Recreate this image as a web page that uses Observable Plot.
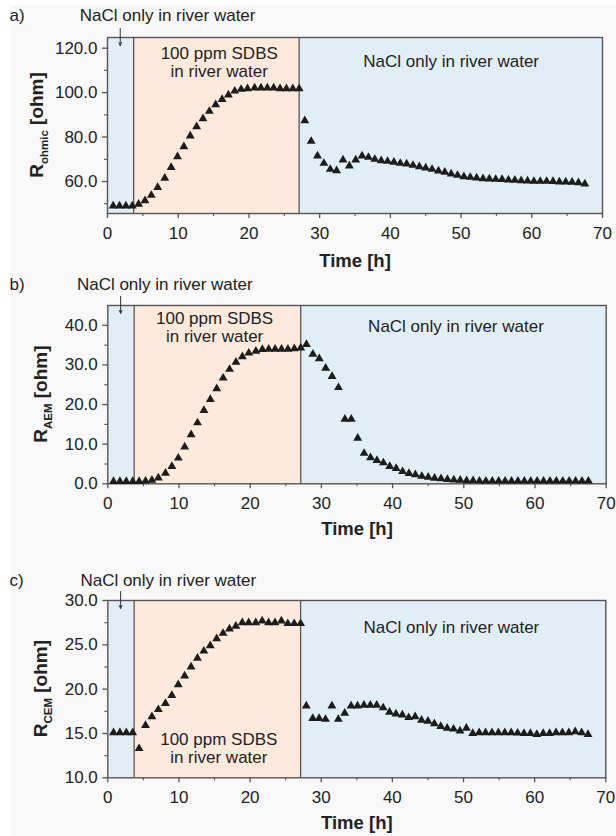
<!DOCTYPE html>
<html>
<head>
<meta charset="utf-8">
<script src="https://cdn.jsdelivr.net/npm/d3@7"></script>
<script src="https://cdn.jsdelivr.net/npm/@observablehq/plot@0.6"></script>
<style>
  html, body { margin: 0; padding: 0; }
  body {
    width: 616px; height: 836px; overflow: hidden;
    background: linear-gradient(to right, #ffffff 10px, rgba(0,0,0,0) 10px), linear-gradient(#ffffff 5px, #f8f8f8 5px);
    font-family: "Liberation Sans", Arial, sans-serif;
  }
  #chart svg { display: block; }
</style>
</head>
<body>
<div id="chart"></div>
<script>
// ---- data ----
const time = [
  0.8, 1.7, 2.6, 3.5, 4.4, 5.3, 6.2, 7.1, 8.1, 9.0,
  9.9, 10.8, 11.7, 12.6, 13.5, 14.4, 15.3, 16.2, 17.1, 18.0,
  18.9, 19.8, 20.8, 21.7, 22.6, 23.5, 24.4, 25.3, 26.2, 27.1,
  27.9, 28.8, 29.7, 30.6, 31.5, 32.4, 33.3, 34.2, 35.1, 36.0,
  36.9, 37.8, 38.7, 39.6, 40.5, 41.4, 42.3, 43.2, 44.1, 45.0,
  45.9, 46.8, 47.7, 48.6, 49.5, 50.4, 51.3, 52.2, 53.1, 54.0,
  54.9, 55.8, 56.7, 57.6, 58.5, 59.4, 60.3, 61.2, 62.1, 63.0,
  63.9, 64.8, 65.7, 66.6, 67.5
];
const rOhmic = [
  49.0, 49.0, 49.0, 49.0, 49.8, 51.4, 53.8, 57.3, 61.5, 66.3,
  71.2, 75.7, 80.5, 84.7, 88.3, 91.6, 94.6, 96.9, 99.0, 100.7,
  101.5, 101.8, 102.1, 102.1, 102.1, 102.1, 101.8, 101.8, 101.8, 101.8,
  87.4, 78.1, 71.5, 68.2, 65.5, 64.9, 69.7, 67.0, 69.7, 71.5,
  70.9, 70.0, 69.4, 69.1, 68.7, 68.2, 67.9, 67.3, 66.7, 66.1,
  65.5, 64.8, 64.2, 63.4, 62.8, 62.2, 61.9, 61.6, 61.3, 61.2,
  61.0, 60.9, 60.7, 60.6, 60.4, 60.3, 60.1, 60.1, 60.1, 60.0,
  59.8, 59.8, 59.7, 59.5, 58.9
];
const rAEM = [
  0.6, 0.6, 0.6, 0.6, 0.6, 0.7, 0.9, 1.5, 2.7, 4.4,
  6.5, 9.3, 12.4, 15.4, 18.5, 21.3, 24.0, 26.7, 28.9, 30.7,
  32.1, 33.0, 33.5, 33.9, 34.0, 34.0, 34.0, 34.0, 34.1, 34.3,
  35.2, 32.7, 31.6, 29.2, 27.1, 24.3, 16.3, 16.3, 11.5, 7.7,
  6.6, 5.9, 5.3, 4.4, 3.9, 3.1, 2.6, 2.3, 1.9, 1.7,
  1.4, 1.3, 1.1, 1.0, 0.9, 0.8, 0.8, 0.7, 0.7, 0.7,
  0.7, 0.7, 0.7, 0.7, 0.7, 0.7, 0.7, 0.7, 0.7, 0.7,
  0.7, 0.7, 0.7, 0.7, 0.7
];
const rCEM = [
  15.1, 15.1, 15.1, 15.1, 13.3, 15.9, 16.9, 17.7, 18.4, 19.3,
  20.5, 21.5, 22.5, 23.5, 24.3, 24.9, 25.7, 26.3, 26.8, 27.1,
  27.5, 27.5, 27.5, 27.7, 27.5, 27.5, 27.7, 27.4, 27.4, 27.4,
  18.1, 16.7, 16.7, 16.6, 18.1, 16.6, 17.3, 18.1, 18.1, 18.2,
  18.2, 18.2, 17.9, 17.4, 17.2, 17.1, 16.8, 16.9, 16.5, 16.4,
  16.1, 15.8, 15.6, 15.5, 15.3, 15.6, 15.0, 15.1, 15.1, 15.1,
  15.1, 15.1, 15.1, 15.05, 15.0, 15.0, 14.9, 15.0, 15.0, 15.1,
  15.1, 15.1, 15.2, 15.1, 14.9
];
const phaseStart = [0, 3.7, 27.1];
const phaseEnd = [3.7, 27.1, 70];
const phaseKind = ["NaCl", "SDBS", "NaCl"];
const phaseBoundaries = [3.7, 27.1];
const xTicks = [0, 10, 20, 30, 40, 50, 60, 70];
const xMinorTicks = [5, 15, 25, 35, 45, 55, 65];
const yTicksA = [60, 80, 100, 120];
const yMinorA = [50, 70, 90, 110];
const yTicksB = [0, 10, 20, 30, 40];
const yMinorB = [5, 15, 25, 35];
const yTicksC = [10, 15, 20, 25, 30];
const yMinorC = [12.5, 17.5, 22.5, 27.5];
const labelNaCl = "NaCl only in river water";
const labelSDBS = "100 ppm SDBS\nin river water";
const labelTime = "Time [h]";

// ---- styling / layout ----
const BLUE = "#e2eef6";
const PEACH = "#fdeadd";
const FRAME = "#555555";
const INK = "#222222";
const FONT = "'Liberation Sans', Arial, Helvetica, sans-serif";
const TXT = 17;

const panels = [
  { letter: "a)", values: rOhmic, sub: "ohmic", height: 270, mt: 37, mb: 57, ml: 107, mr: 14,
    yDomain: [45.6, 124.8], yTicks: yTicksA, yMinor: yMinorA,
    topX: 8.5, arrowX: 1.8, arrowY: [128.9, 121.2], topDy: -16.3,
    sdbsX: 15.8, sdbsAnchor: "top", sdbsDy: 39, rightX: 48.6, rightDy: 29, timeDy: 53, ylabX: 43.3 },
  { letter: "b)", values: rAEM, sub: "AEM", height: 290, mt: 35, mb: 76.7, ml: 107.3, mr: 10.3,
    yDomain: [0, 45], yTicks: yTicksB, yMinor: yMinorB,
    topX: 8.0, arrowX: 1.8, arrowY: [47.3, 43.0], topDy: -16,
    sdbsX: 15.0, sdbsAnchor: "top", sdbsDy: 36.7, rightX: 48.9, rightDy: 26.7, timeDy: 51, ylabX: 47.3 },
  { letter: "c)", values: rCEM, sub: "CEM", height: 276, mt: 40, mb: 58.7, ml: 107.3, mr: 10.7,
    yDomain: [10, 30], yTicks: yTicksC, yMinor: yMinorC,
    topX: 8.5, arrowX: 1.8, arrowY: [31.0, 29.1], topDy: -15,
    sdbsX: 15.6, sdbsAnchor: "bottom", sdbsDy: -14.6, rightX: 48.3, rightDy: 32.3, timeDy: 51.4, ylabX: 47.3 }
];

const phases = phaseStart.map((s, i) => ({ start: s, end: phaseEnd[i], kind: phaseKind[i] }));
const chart = document.getElementById("chart");

for (const p of panels) {
  const svg = Plot.plot({
    width: 616,
    height: p.height,
    marginTop: p.mt, marginBottom: p.mb, marginLeft: p.ml, marginRight: p.mr,
    style: { background: "transparent", fontFamily: FONT, fontSize: TXT + "px", color: INK, overflow: "visible" },
    x: { domain: [0, 70] },
    y: { domain: p.yDomain },
    marks: [
      Plot.rect(phases.filter(d => d.kind === "NaCl"), { x1: "start", x2: "end", fill: BLUE }),
      Plot.rect(phases.filter(d => d.kind === "SDBS"), { x1: "start", x2: "end", fill: PEACH }),
      Plot.ruleX(phaseBoundaries, { stroke: FRAME, strokeWidth: 1.3 }),
      Plot.frame({ stroke: FRAME, strokeWidth: 1.4 }),
      Plot.axisX({ ticks: xTicks, tickSize: 5, tickPadding: 8, tickFormat: d => String(d), label: null, stroke: FRAME, strokeWidth: 1.3, fontSize: TXT }),
      Plot.axisX({ ticks: xMinorTicks, tickSize: 3, tickFormat: () => "", label: null, stroke: FRAME, strokeWidth: 1.1 }),
      Plot.axisY({ ticks: p.yTicks, tickSize: 5, tickPadding: 5, tickFormat: d => d.toFixed(1), label: null, stroke: FRAME, strokeWidth: 1.3, fontSize: TXT }),
      Plot.axisY({ ticks: p.yMinor, tickSize: 3, tickFormat: () => "", label: null, stroke: FRAME, strokeWidth: 1.1 }),
      Plot.dot(time, { x: time, y: p.values, symbol: "triangle", r: 3.3, fill: "#1c1c1c", stroke: null }),
      Plot.arrow([p.arrowX], { x1: d => d, x2: d => d, y1: p.arrowY[0], y2: p.arrowY[1], stroke: "#333", strokeWidth: 1, headLength: 5, headAngle: 50 }),
      Plot.text([p.letter], { frameAnchor: "top-left", dx: 9 - p.ml, dy: p.topDy, textAnchor: "start", lineAnchor: "bottom", fontSize: TXT, fill: INK }),
      Plot.text([labelNaCl], { x: p.topX, frameAnchor: "top", dy: p.topDy, lineAnchor: "bottom", fontSize: TXT, fill: INK }),
      Plot.text([labelSDBS], { x: p.sdbsX, frameAnchor: p.sdbsAnchor, dy: p.sdbsDy, lineAnchor: "bottom", lineHeight: 1.05, fontSize: TXT, fill: INK }),
      Plot.text([labelNaCl], { x: p.rightX, frameAnchor: "top", dy: p.rightDy, lineAnchor: "bottom", fontSize: TXT, fill: INK }),
      Plot.text([labelTime], { frameAnchor: "bottom", dy: p.timeDy, lineAnchor: "bottom", fontSize: 18.5, fontWeight: "bold", fill: INK })
    ]
  });

  // rotated y-axis title with subscript
  const cy = p.mt + (p.height - p.mt - p.mb) / 2;
  const t = d3.select(svg).append("text")
    .attr("transform", `translate(${p.ylabX},${cy}) rotate(-90)`)
    .attr("text-anchor", "middle")
    .attr("font-family", FONT)
    .attr("font-weight", "bold")
    .attr("font-size", 19)
    .attr("fill", INK);
  t.append("tspan").text("R");
  t.append("tspan").attr("font-size", 11.5).attr("dy", 4.5).text(p.sub);
  t.append("tspan").attr("dy", -4.5).text(" [ohm]");

  chart.appendChild(svg);
}
</script>
</body>
</html>
